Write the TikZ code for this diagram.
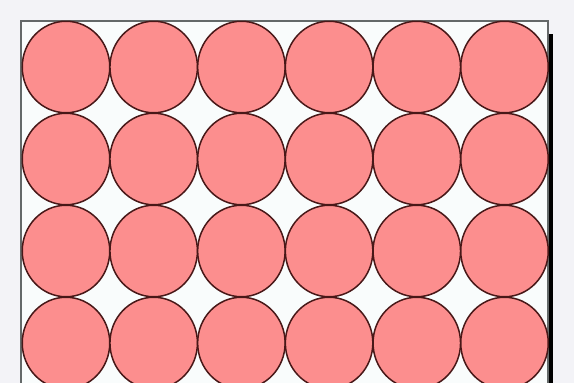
\documentclass[tikz,border=0pt]{standalone}
\usetikzlibrary{shapes.geometric}
\definecolor{bgc}{RGB}{243,243,247}
\definecolor{innerc}{RGB}{249,252,252}
\definecolor{framec}{RGB}{100,105,105}
\definecolor{cellfill}{RGB}{252,142,142}
\definecolor{celledge}{RGB}{72,24,24}
\tikzset{
  cell/.style={ellipse, draw=celledge, fill=cellfill, line width=1.5pt,
    minimum width=87.5pt, minimum height=91.5pt, inner sep=0pt}
}
\begin{document}
\begin{tikzpicture}[x=1pt,y=-1pt]
\fill[bgc] (0,0) rectangle (574,383);
\useasboundingbox (0,0) rectangle (574,383);
\fill[black] (548.5,34) rectangle (552.5,383);
\fill[innerc] (21,21) rectangle (548,390);
\draw[framec, line width=1.6pt] (21,390) -- (21,21) -- (548,21) -- (548,390);
\foreach \r [count=\i] in {67,159,251,343}{
  \foreach \c [count=\j] in {66,153.7,241.4,329.1,416.8,504.5}{
    \node[cell] (c-\i-\j) at (\c,\r) {};
  }
}
\end{tikzpicture}
\end{document}
